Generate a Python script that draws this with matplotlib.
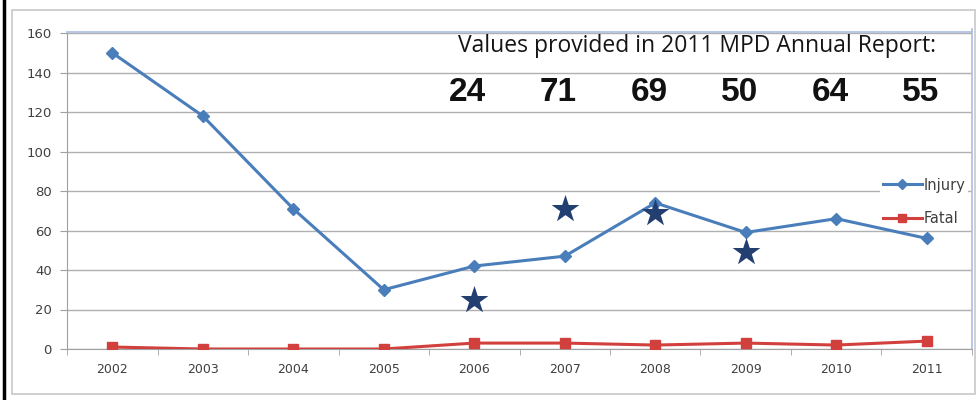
import matplotlib
matplotlib.use("Agg")
import matplotlib.pyplot as plt
from matplotlib.patches import Rectangle
from matplotlib.lines import Line2D

years = ["2002", "2003", "2004", "2005", "2006", "2007", "2008", "2009", "2010", "2011"]
injury = [150, 118, 71, 30, 42, 47, 74, 59, 66, 56]
fatal = [1, 0, 0, 0, 3, 3, 2, 3, 2, 4]
report_years = ["2006", "2007", "2008", "2009", "2010", "2011"]
report_values = [24, 71, 69, 50, 64, 55]
star_years = ["2006", "2007", "2008", "2009"]
star_values = [25, 71, 69, 49]
yticks = [0, 20, 40, 60, 80, 100, 120, 140, 160]

fig = plt.figure(figsize=(9.78, 4.0), dpi=100)
fig.patch.set_facecolor("white")

# outer frames
fig.add_artist(Rectangle((12/978, 1-394/400), (975-12)/978, (394-10)/400,
                         transform=fig.transFigure, fill=False,
                         edgecolor="#C8C8C8", lw=1.2))
fig.add_artist(Line2D([4/978, 4/978], [0, 1], transform=fig.transFigure,
                      color="black", lw=2.5))

ax = fig.add_axes([67/978, 1-349/400, (972-67)/978, (349-33)/400])
x = list(range(len(years)))
idx = {y: i for i, y in enumerate(years)}

ax.set_xlim(-0.5, len(years)-0.5)
ax.set_ylim(0, 160)
ax.set_yticks(yticks)
ax.grid(axis="y", color="#B0B0B0", lw=1)
ax.set_axisbelow(True)

for s in ["top", "right"]:
    ax.spines[s].set_visible(False)
ax.spines["left"].set_color("#A0A0A0")
ax.spines["bottom"].set_color("#A0A0A0")

# top blue line and right blue line of the text box
ax.plot([-0.5, 9.5], [160.5, 160.5], color="#A9BCE0", lw=1.2, clip_on=False, zorder=1)
ax.plot([9.5, 9.5], [0, 162], color="#A9BCE0", lw=1.2, clip_on=False, zorder=1)

ax.set_xticks(x)
ax.set_xticklabels(years)
ax.set_xticks([i + 0.5 for i in range(-1, len(years))], minor=True)
ax.tick_params(axis="x", which="major", length=0, pad=10, labelsize=9, labelcolor="#404040")
ax.tick_params(axis="x", which="minor", length=4, color="#A0A0A0")
ax.tick_params(axis="y", length=5, color="#A0A0A0", labelsize=9.5, labelcolor="#404040", pad=6)

ax.plot(x, injury, color="#4A7EBB", lw=2.2, marker="D", ms=6, label="Injury", zorder=3)
ax.plot(x, fatal, color="#D2403D", lw=2.2, marker="s", ms=7.5, label="Fatal", zorder=3)

ax.scatter([idx[y] for y in star_years], star_values, marker="*", s=440,
           color="#233E70", zorder=4, linewidths=0)

leg = ax.legend(loc="upper left", bbox_to_anchor=(0.89, 0.575), frameon=True,
                fontsize=10.5, handlelength=2.7, labelspacing=1.25, borderpad=0.2,
                handletextpad=0.1, framealpha=1, markerscale=0.8)
leg.get_frame().set_edgecolor("white")
leg.get_frame().set_linewidth(0)
leg.set_zorder(2.5)
for t in leg.get_texts():
    t.set_color("#404040")

ax.text(697/978, 1-46/400, "Values provided in 2011 MPD Annual Report:",
        transform=fig.transFigure, ha="center", va="center", fontsize=16.5,
        family="Open Sans", color="#151515")
for yr, v in zip(report_years, report_values):
    ax.text(idx[yr] - 0.07, 130, str(v), ha="center", va="center",
            fontsize=24, fontweight="bold", family="Liberation Sans", color="#111111")

fig.savefig("out.png", dpi=100)
